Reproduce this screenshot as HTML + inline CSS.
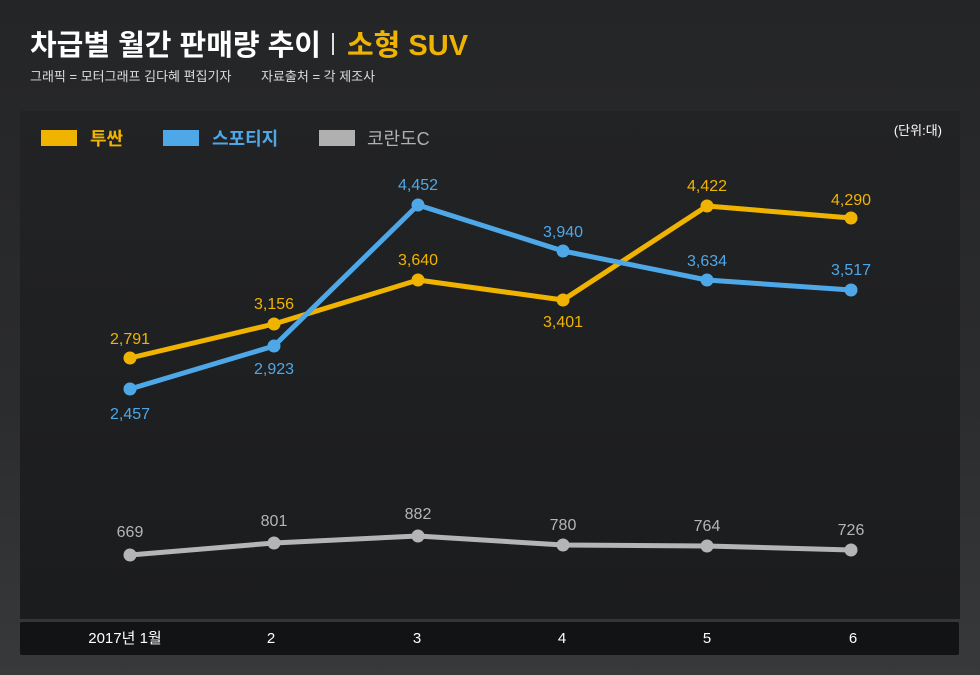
<!DOCTYPE html>
<html><head><meta charset="utf-8"><style>
body{margin:0;width:980px;height:675px;overflow:hidden;background:linear-gradient(180deg,#242527 0%,#2b2c2e 60%,#38393b 100%);font-family:"Liberation Sans","Noto Sans CJK KR",sans-serif;}
</style></head><body>
<svg width="980" height="675" xmlns="http://www.w3.org/2000/svg" style="position:absolute;left:0;top:0;font-family:'Liberation Sans','Noto Sans CJK KR',sans-serif">
<defs><linearGradient id="p" x1="0" y1="0" x2="0" y2="1"><stop offset="0" stop-color="#222325"/><stop offset="1" stop-color="#1b1c1e"/></linearGradient></defs>
<text x="30" y="55" font-size="29" font-weight="bold" fill="#fff">차급별 월간 판매량 추이</text>
<rect x="332" y="33" width="2" height="22" fill="#ddd"/>
<text x="347" y="55" font-size="29" font-weight="bold" fill="#f0b400">소형 SUV</text>
<text x="30" y="81" font-size="13" fill="#ddd">그래픽 = 모터그래프 김다혜 편집기자</text>
<text x="261" y="81" font-size="13" fill="#ddd">자료출처 = 각 제조사</text>
<rect x="20" y="111" width="940" height="508" fill="url(#p)"/>
<rect x="20" y="622" width="939" height="33" rx="2" fill="#121314"/>
<rect x="41" y="130" width="36" height="16" fill="#f0b400"/>
<text x="90" y="145" font-size="18" font-weight="bold" fill="#f0b400">투싼</text>
<rect x="163" y="130" width="36" height="16" fill="#4ea8e8"/>
<text x="212" y="145" font-size="18" font-weight="bold" fill="#4ea8e8">스포티지</text>
<rect x="319" y="130" width="36" height="16" fill="#b0b0b0"/>
<text x="367" y="145" font-size="18" fill="#b0b0b0">코란도C</text>
<text x="942" y="135" font-size="13" fill="#fff" text-anchor="end">(단위:대)</text>
<g fill="none" stroke-width="5" stroke-linejoin="round">
<polyline stroke="#b5b5b5" points="130,555 274,543 418,536 563,545 707,546 851,550"/>
<polyline stroke="#f0b400" points="130,358 274,324 418,280 563,300 707,206 851,218"/>
<polyline stroke="#4ea8e8" points="130,389 274,346 418,205 563,251 707,280 851,290"/>
</g>
<g fill="#b5b5b5"><circle cx="130" cy="555" r="6.5"/><circle cx="274" cy="543" r="6.5"/><circle cx="418" cy="536" r="6.5"/><circle cx="563" cy="545" r="6.5"/><circle cx="707" cy="546" r="6.5"/><circle cx="851" cy="550" r="6.5"/></g>
<g fill="#f0b400"><circle cx="130" cy="358" r="6.5"/><circle cx="274" cy="324" r="6.5"/><circle cx="418" cy="280" r="6.5"/><circle cx="563" cy="300" r="6.5"/><circle cx="707" cy="206" r="6.5"/><circle cx="851" cy="218" r="6.5"/></g>
<g fill="#4ea8e8"><circle cx="130" cy="389" r="6.5"/><circle cx="274" cy="346" r="6.5"/><circle cx="418" cy="205" r="6.5"/><circle cx="563" cy="251" r="6.5"/><circle cx="707" cy="280" r="6.5"/><circle cx="851" cy="290" r="6.5"/></g>
<g font-size="16" text-anchor="middle">
<g fill="#f0b400"><text x="130" y="344">2,791</text><text x="274" y="309">3,156</text><text x="418" y="265">3,640</text><text x="563" y="327">3,401</text><text x="707" y="191">4,422</text><text x="851" y="205">4,290</text></g>
<g fill="#4ea8e8"><text x="130" y="419">2,457</text><text x="274" y="374">2,923</text><text x="418" y="190">4,452</text><text x="563" y="237">3,940</text><text x="707" y="266">3,634</text><text x="851" y="275">3,517</text></g>
<g fill="#b5b5b5"><text x="130" y="537">669</text><text x="274" y="526">801</text><text x="418" y="519">882</text><text x="563" y="530">780</text><text x="707" y="531">764</text><text x="851" y="535">726</text></g>
<g fill="#fff" font-size="15"><text x="125" y="643">2017년 1월</text><text x="271" y="643">2</text><text x="417" y="643">3</text><text x="562" y="643">4</text><text x="707" y="643">5</text><text x="853" y="643">6</text></g>
</g>
</svg>
</body></html>
